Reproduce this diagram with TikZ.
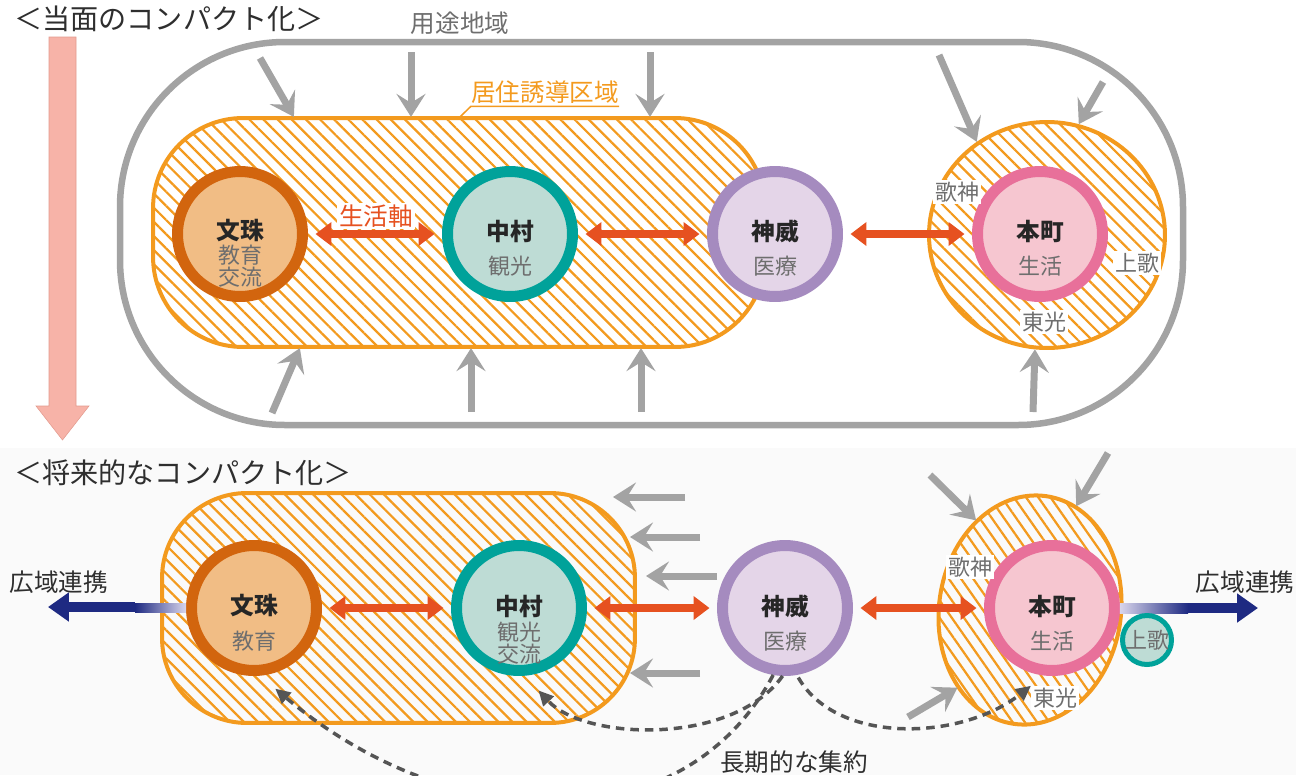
\documentclass[tikz,border=0pt]{standalone}
\usepackage{fontspec}
\newfontfamily\jpfont{Noto Sans CJK JP}
\usetikzlibrary{arrows.meta,shapes.geometric,patterns.meta}

\definecolor{zoneorange}{HTML}{F39A1E}
\definecolor{areagray}{HTML}{A3A3A3}
\definecolor{axisred}{HTML}{E65120}
\definecolor{textgray}{HTML}{6E6E6E}
\definecolor{titlegray}{HTML}{2E2E2E}
\definecolor{bunjuring}{HTML}{D2650E}
\definecolor{bunjufill}{HTML}{F1BD85}
\definecolor{nakaring}{HTML}{00A29A}
\definecolor{nakafill}{HTML}{BEDCD5}
\definecolor{kamuiring}{HTML}{A58BBF}
\definecolor{kamuifill}{HTML}{E4D5E8}
\definecolor{honring}{HTML}{E8709A}
\definecolor{honfill}{HTML}{F6C6D0}
\definecolor{widenavy}{HTML}{1E2A82}
\definecolor{widelight}{HTML}{D8D5EC}
\definecolor{pinkfill}{HTML}{F7B3A8}
\definecolor{pinkline}{HTML}{E29A8E}
\definecolor{dashgray}{HTML}{555555}

\begin{document}
\begin{tikzpicture}[x=0.02cm, y=-0.02cm, font=\jpfont,
    hub/.style={circle, line width=0.22cm, minimum size=2.5cm, inner sep=0pt},
    hubname/.style={font=\jpfont\bfseries\fontsize{13.5}{15}\selectfont, text=black!85},
    hubrole/.style={font=\jpfont\fontsize{12.5}{11.5}\selectfont, text=textgray, align=center},
    zone/.style={draw=zoneorange, line width=0.08cm, inner sep=0pt,
        pattern={Lines[angle=-45, distance=0.2cm, line width=0.045cm]}, pattern color=zoneorange},
    lifeaxis/.style={draw=axisred, line width=0.16cm, shorten <=0.15cm, shorten >=0.15cm,
        {Triangle[length=0.32cm, width=0.46cm]}-{Triangle[length=0.32cm, width=0.46cm]}},
    inflow/.style={draw=areagray, line width=0.14cm, -{Stealth[length=0.46cm, width=0.58cm, inset=0.18cm]}},
    longterm/.style={draw=dashgray, line width=0.07cm, dash pattern=on 0.17cm off 0.12cm,
        -{Triangle[length=0.3cm, width=0.28cm]}},
    widearrow/.style={draw=widenavy, line width=0.2cm, -{Triangle[length=0.42cm, width=0.56cm]}},
    district/.style={font=\jpfont\fontsize{12.5}{14}\selectfont, text=textgray, fill=white, inner sep=1pt},
    notelbl/.style={font=\jpfont\fontsize{14}{16}\selectfont},
    headline/.style={font=\jpfont\fontsize{16}{19}\selectfont, text=titlegray, anchor=west, inner sep=0pt}]

    \useasboundingbox (0,0) rectangle (1296,775);
    \clip (0,0) rectangle (1296,775);
    \fill[black!2] (0,448) rectangle (1296,775);

    \filldraw[fill=pinkfill, draw=pinkline, line width=0.3pt]
        (49,37) -- (76,37) -- (76,406) -- (89,406) -- (62.5,440) -- (36,406) -- (49,406) -- cycle;

    \node[headline] (now) at (14,19) {＜当面のコンパクト化＞};
    \node[headline] (future) at (14,473) {＜将来的なコンパクト化＞};

    % current
    \draw[areagray, line width=0.13cm, rounded corners=3.3cm] (120,42) rectangle (1183,425);
    \node[notelbl, text=textgray] (youto) at (460,23) {用途地域};

    \node[zone, rounded corners=1.8cm, minimum width=12.24cm, minimum height=4.58cm] (kyoju) at (459,232.5) {};
    \node[zone, ellipse, minimum width=4.72cm, minimum height=4.52cm] (honzone) at (1047,235) {};
    \node[notelbl, text=zoneorange, inner xsep=0pt, inner ysep=1.5pt] (kyojulbl) at (545,92) {居住誘導区域};
    \draw[zoneorange, line width=0.03cm] (kyojulbl.south east) -- (kyojulbl.south west) -- (460,0 |- kyoju.north);

    \coordinate (t1) at (260,58);
    \coordinate (t2) at (411,52);
    \coordinate (t3) at (650,52);
    \coordinate (t4) at (939,55);
    \coordinate (t5) at (1103,82);
    \coordinate (b1) at (272,413);
    \coordinate (b2) at (471,412);
    \coordinate (b3) at (641,412);
    \coordinate (b4) at (1033,412);
    \draw[inflow] (t1) -- (kyoju.145);
    \draw[inflow] (t2) -- (t2 |- kyoju.north);
    \draw[inflow] (t3) -- (t3 |- kyoju.north);
    \draw[inflow] (t4) -- (honzone.127);
    \draw[inflow] (t5) -- (honzone.74);
    \draw[inflow] (b1) -- (kyoju.216);
    \draw[inflow] (b2) -- (b2 |- kyoju.south);
    \draw[inflow] (b3) -- (b3 |- kyoju.south);
    \draw[inflow] (b4) -- (honzone.264);

    \node[hub, draw=bunjuring, fill=bunjufill] (bunju) at (240,234) {};
    \node[hub, draw=nakaring, fill=nakafill] (nakamura) at (510,234) {};
    \node[hub, draw=kamuiring, fill=kamuifill] (kamui) at (775,234) {};
    \node[hub, draw=honring, fill=honfill] (honmachi) at (1040,234) {};

    \node[hubname] at ([yshift=0.06cm]bunju.center) {文珠};
    \node[hubrole] at ([yshift=-0.64cm]bunju.center) {教育\\交流};
    \node[hubname] at ([yshift=0.06cm]nakamura.center) {中村};
    \node[hubrole] at ([yshift=-0.64cm]nakamura.center) {観光};
    \node[hubname] at ([yshift=0.06cm]kamui.center) {神威};
    \node[hubrole] at ([yshift=-0.64cm]kamui.center) {医療};
    \node[hubname] at ([yshift=0.06cm]honmachi.center) {本町};
    \node[hubrole] at ([yshift=-0.64cm]honmachi.center) {生活};

    \node[district] (utagami) at (957,192) {歌神};
    \node[district] (kamiuta) at (1137,263) {上歌};
    \node[district] (toko) at (1044,322) {東光};

    \draw[lifeaxis] (bunju) -- (nakamura);
    \draw[lifeaxis] (nakamura) -- (kamui);
    \draw[lifeaxis] (kamui) -- (honmachi);
    \node[notelbl, text=axisred, fill=white, inner sep=1pt] (axislbl) at (376,216) {生活軸};

    % future
    \node[zone, rounded corners=1.7cm, minimum width=9.46cm, minimum height=4.6cm] (kyoju2) at (398.5,608) {};
    \node[zone, ellipse, rotate=-8, minimum width=3.64cm, minimum height=4.6cm,
        pattern={Lines[angle=-55, distance=0.2cm, line width=0.045cm]}] (honzone2) at (1030,610) {};

    \coordinate (w1) at (685,497);
    \coordinate (w2) at (700,537);
    \coordinate (w3) at (717,576);
    \coordinate (w4) at (700,673);
    \coordinate (d1) at (930,475);
    \coordinate (d2) at (1108,453);
    \coordinate (d3) at (908,717);
    \draw[inflow] (w1) -- ++(-72,0);
    \draw[inflow] (w2) -- ++(-70,0);
    \draw[inflow] (w3) -- ++(-71,0);
    \draw[inflow] (w4) -- ++(-70,0);
    \draw[inflow] (d1) -- (honzone2.129);
    \draw[inflow] (d2) -- (honzone2.74);
    \draw[inflow] (d3) -- (honzone2.235);

    \node[hub, draw=bunjuring, fill=bunjufill] (bunju2) at (254,608) {};
    \node[hub, draw=nakaring, fill=nakafill] (nakamura2) at (519,608) {};
    \node[hub, draw=kamuiring, fill=kamuifill] (kamui2) at (785,608) {};
    \node[hub, draw=honring, fill=honfill] (honmachi2) at (1052,608) {};

    \node[hubname] at ([yshift=0.04cm]bunju2.center) {文珠};
    \node[hubrole] at ([yshift=-0.66cm]bunju2.center) {教育};
    \node[hubname] at ([yshift=0.04cm]nakamura2.center) {中村};
    \node[hubrole] at ([yshift=-0.7cm]nakamura2.center) {観光\\交流};
    \node[hubname] at ([yshift=0.04cm]kamui2.center) {神威};
    \node[hubrole] at ([yshift=-0.66cm]kamui2.center) {医療};
    \node[hubname] at ([yshift=0.04cm]honmachi2.center) {本町};
    \node[hubrole] at ([yshift=-0.66cm]honmachi2.center) {生活};

    \node[district] (utagami2) at (970,567) {歌神};
    \node[district] (toko2) at (1055,698) {東光};

    \draw[lifeaxis] (bunju2) -- (nakamura2);
    \draw[lifeaxis] (nakamura2) -- (kamui2);
    \draw[lifeaxis] (kamui2) -- (honmachi2);

    \coordinate (wideL) at (48,607);
    \coordinate (wideLm) at (135,607);
    \coordinate (wideR) at (1258,608);
    \coordinate (wideRm) at (1188,608);
    \shade[left color=widenavy, right color=widelight] ([yshift=-0.1cm]wideLm) rectangle ([yshift=0.1cm]bunju2.west);
    \draw[widearrow] (wideLm) -- (wideL);
    \shade[left color=widelight, right color=widenavy] ([yshift=-0.1cm]honmachi2.east) rectangle ([yshift=0.1cm]wideRm);
    \draw[widearrow] (wideRm) -- (wideR);
    \node[notelbl, text=titlegray] (wideLlbl) at (59,582) {広域連携};
    \node[notelbl, text=titlegray] (wideRlbl) at (1245,582) {広域連携};

    \node[hub, draw=nakaring, fill=nakafill, line width=0.1cm, minimum size=0.98cm,
        font=\jpfont\fontsize{12.5}{14}\selectfont, text=textgray] (kamiuta2) at (1147,640) {上歌};

    \draw[longterm, shorten >=0.4cm] (kamui2.260) .. controls +(-90,170) and +(190,160) .. (bunju2.-85);
    \draw[longterm, shorten >=0.4cm] (kamui2.268) .. controls +(-50,70) and +(60,65) .. (nakamura2.-85);
    \draw[longterm, shorten <=0.06cm] (kamui2.280) .. controls +(40,70) and +(-70,55) .. (toko2.north west);
    \node[notelbl, text=titlegray] (shuyaku) at (794,762) {長期的な集約};
\end{tikzpicture}
\end{document}
